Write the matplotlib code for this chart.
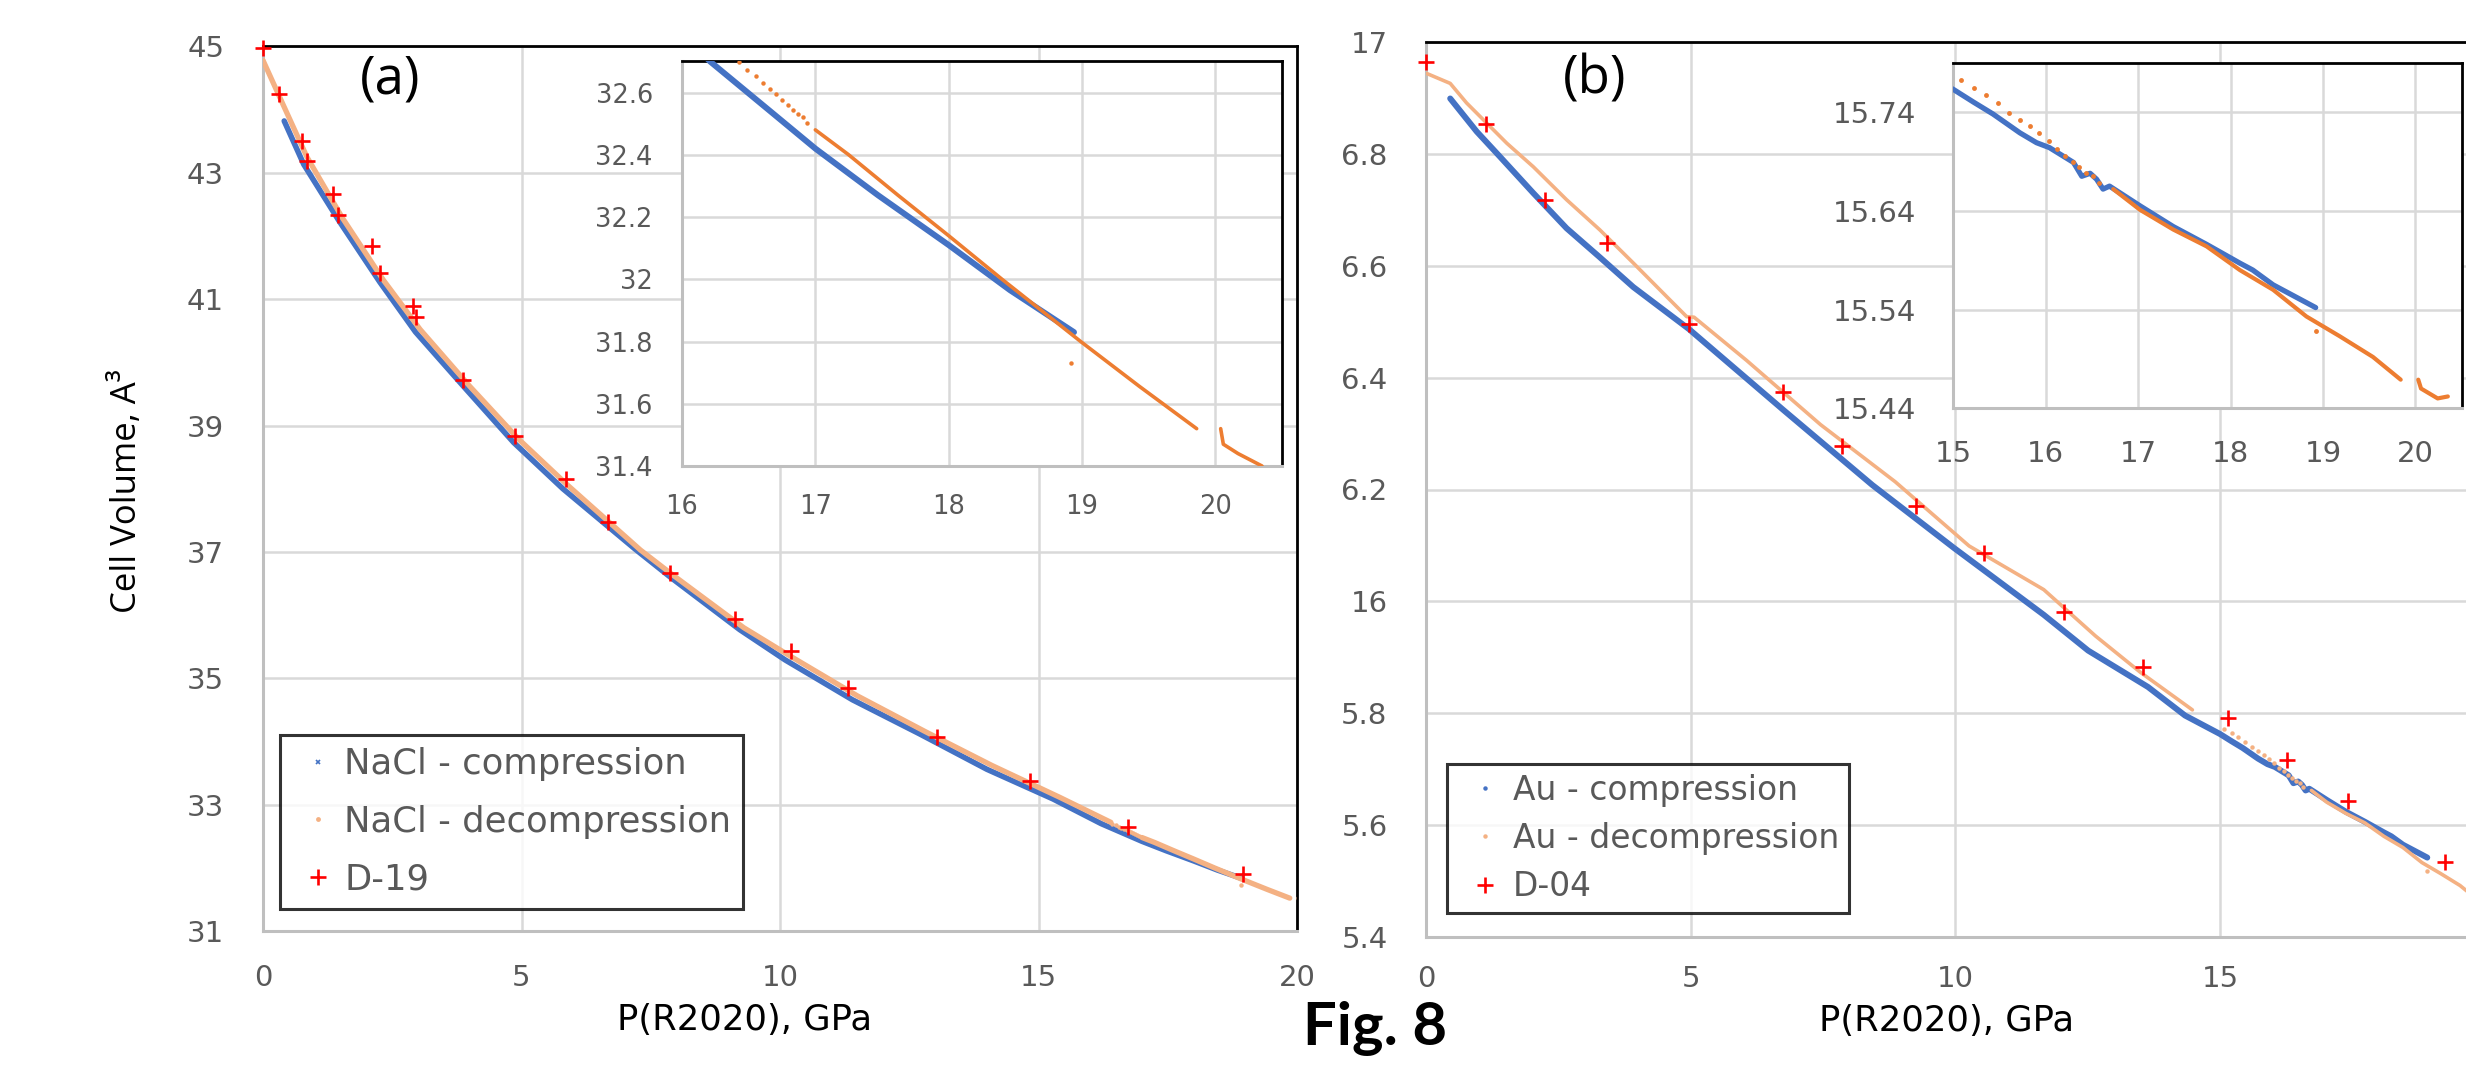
import numpy as np
import matplotlib
matplotlib.use("Agg")
import matplotlib.pyplot as plt
from matplotlib.lines import Line2D
from matplotlib.ticker import FixedLocator, FixedFormatter

plt.rcParams['font.family'] = ['DejaVu Sans']

nan = np.nan

# ---------------- (a) NaCl ----------------
nacl_comp_p = [0.41, 0.79, 1.47, 2.26, 2.95, 3.90, 4.85, 5.80, 7.19, 7.88, 9.22, 10.1,
               11.4, 12.7, 14.0, 15.28, 16.21, 16.69, 17.0, 17.47, 18.0, 18.46, 18.94]
nacl_comp_v = [43.82, 43.13, 42.24, 41.27, 40.48, 39.60, 38.73, 38.00, 37.05, 36.60, 35.77, 35.29,
               34.66, 34.12, 33.56, 33.09, 32.70, 32.53, 32.42, 32.27, 32.11, 31.965, 31.83]

nacl_dec_p = [0.0, 0.31, 0.85, 1.54, 2.33, 3.04, 4.0, 4.95, 5.9, 7.3, 7.95, 9.3, 10.2, 11.5,
              12.8, 14.1, 15.4, 16.4, nan,
              17.0, 17.25, 17.62, 18.0, 18.4, 18.99, 19.43, 19.86, nan,
              20.04, 20.06, 20.17, 20.35]
nacl_dec_v = [44.78, 44.22, 43.25, 42.28, 41.30, 40.52, 39.62, 38.78, 38.05, 37.03, 36.62, 35.80, 35.35, 34.72,
              34.16, 33.62, 33.12, 32.72, nan,
              32.48, 32.40, 32.27, 32.14, 32.00, 31.80, 31.656, 31.52, nan,
              31.52, 31.47, 31.44, 31.40]
# isolated decompression readings
nacl_dec_sparse_p = [16.428, 16.49, 16.552, 16.605, 16.661, 16.708, 16.748, 16.795, 16.832,
                     16.873, 16.904, 16.941, 18.92]
nacl_dec_sparse_v = [32.698, 32.673, 32.652, 32.629, 32.612, 32.595, 32.577, 32.560, 32.545,
                     32.531, 32.520, 32.503, 31.73]

d19_p = [0.0, 0.31, 0.76, 0.86, 1.35, 1.46, 2.10, 2.27, 2.91, 2.95, 3.87, 4.88, 5.87, 6.67,
         7.88, 9.13, 10.22, 11.32, 13.04, 14.83, 16.74, 18.96]
d19_v = [44.98, 44.24, 43.51, 43.19, 42.67, 42.33, 41.84, 41.41, 40.89, 40.72, 39.72, 38.83, 38.15, 37.47,
         36.67, 35.94, 35.43, 34.85, 34.07, 33.38, 32.65, 31.91]

# ---------------- (b) Au ----------------
au_comp_p = [0.45, 0.95, 1.39, 2.02, 2.65, 3.28, 3.91, 4.96, 6.75, 8.43, 9.98, 11.67, 12.51,
             13.64, 14.34, 15.0, 15.22, 15.43, 15.72, 15.90, 16.04, 16.30, 16.39, 16.48, 16.55,
             16.62, 16.69, 17.02, 17.38, 17.74, 18.10, 18.24, 18.46, 18.92]
au_comp_v = [16.899, 16.840, 16.795, 16.730, 16.667, 16.615, 16.562, 16.487, 16.342, 16.208, 16.095,
             15.976, 15.912, 15.847, 15.796, 15.763, 15.750, 15.738, 15.719, 15.709, 15.704, 15.689,
             15.675, 15.678, 15.672, 15.662, 15.665, 15.645, 15.624, 15.606, 15.587, 15.580, 15.565,
             15.542]

au_dec_p = [0.0, 0.45, 0.76, 1.14, 1.52, 2.02, 2.65, 3.28, 3.91, 4.54, 4.92, 5.06, 6.05, 7.45,
            8.86, 10.26, 11.67, 12.65, 13.50, 14.48, nan,
            16.73, 17.02, 17.38, 17.74, 18.10, 18.46, 18.82, 19.18, 19.54, 19.84, nan,
            20.03, 20.06, 20.15, 20.24, 20.35]
au_dec_v = [16.944, 16.926, 16.891, 16.855, 16.819, 16.777, 16.718, 16.664, 16.605, 16.545, 16.509,
            16.508, 16.431, 16.316, 16.214, 16.099, 16.021, 15.938, 15.873, 15.806, nan,
            15.662, 15.641, 15.621, 15.604, 15.580, 15.560, 15.533, 15.513, 15.492, 15.469, nan,
            15.469, 15.460, 15.455, 15.450, 15.452]
au_dec_sparse_p = [15.08, 15.22, 15.35, 15.48, 15.60, 15.72, 15.83, 15.93, 16.03, 16.12, 16.21,
                   16.29, 16.36, 16.44, 16.51, 16.58, 18.92]
au_dec_sparse_v = [15.772, 15.764, 15.757, 15.749, 15.739, 15.732, 15.726, 15.719, 15.711, 15.703,
                   15.696, 15.689, 15.684, 15.678, 15.675, 15.668, 15.518]

d04_p = [0.0, 1.12, 2.25, 3.42, 4.96, 6.75, 7.85, 9.25, 10.54, 12.05, 13.55, 15.15, 16.26, 17.43, 19.25]
d04_v = [16.965, 16.853, 16.717, 16.641, 16.495, 16.374, 16.277, 16.171, 16.087, 15.981, 15.882,
         15.792, 15.716, 15.644, 15.534]

# ---------------- ticks ----------------
a_xticks = [0, 5, 10, 15, 20]
a_yticks = [31, 33, 35, 37, 39, 41, 43, 45]
a_ylabels = ['31', '33', '35', '37', '39', '41', '43', '45']
ai_xticks = [16, 17, 18, 19, 20]
ai_yticks = [31.4, 31.6, 31.8, 32.0, 32.2, 32.4, 32.6]
ai_ylabels = ['31.4', '31.6', '31.8', '32', '32.2', '32.4', '32.6']
b_xticks = [0, 5, 10, 15, 20]
b_yticks = [15.4, 15.6, 15.8, 16.0, 16.2, 16.4, 16.6, 16.8, 17.0]
b_ylabels = ['5.4', '5.6', '5.8', '16', '6.2', '6.4', '6.6', '6.8', '17']
bi_xticks = [15, 16, 17, 18, 19, 20]
bi_yticks = [15.44, 15.54, 15.64, 15.74]
bi_ylabels = ['15.44', '15.54', '15.64', '15.74']

BLUE = '#4472C4'
PEACH = '#F4B183'
ORANGE = '#ED7D31'
RED = '#FF0000'
GRID = '#D9D9D9'
AXIS = '#BFBFBF'
TICK = '#595959'
TITLE_FONT = ['Open Sans', 'DejaVu Sans']

W, H, DPI = 2466, 1065, 100
fig = plt.figure(figsize=(W / DPI, H / DPI), dpi=DPI, facecolor='white')


def rect(l, t, r, b):
    return [l / W, 1 - b / H, (r - l) / W, (b - t) / H]


def frame(ax, xt, yt, ylab, xpad, ypad, fs):
    ax.set_facecolor('white')
    ax.xaxis.set_major_locator(FixedLocator(xt))
    ax.yaxis.set_major_locator(FixedLocator(yt))
    ax.yaxis.set_major_formatter(FixedFormatter(ylab))
    ax.xaxis.set_major_formatter(FixedFormatter([str(v) for v in xt]))
    ax.grid(True, color=GRID, lw=1.8)
    ax.set_axisbelow(True)
    for s in ('left', 'bottom'):
        ax.spines[s].set_color(AXIS)
        ax.spines[s].set_linewidth(2.2)
    for s in ('top', 'right'):
        ax.spines[s].set_color('black')
        ax.spines[s].set_linewidth(2.0)
    ax.tick_params(length=0, labelsize=fs, labelcolor=TICK)
    ax.tick_params(axis='x', pad=xpad)
    ax.tick_params(axis='y', pad=ypad)


# ---------- panel (a) ----------
axa = fig.add_axes(rect(263, 46.4, 1297, 931))
frame(axa, a_xticks, a_yticks, a_ylabels, 24, 28, 21)
axa.set_xlim(0, 20)
axa.set_ylim(31, 45)
axa.plot(nacl_comp_p, nacl_comp_v, color=BLUE, lw=4.0, solid_capstyle='round', zorder=3)
axa.plot(nacl_dec_p, nacl_dec_v, color=PEACH, lw=3.8, solid_capstyle='round', zorder=4)
axa.plot(nacl_dec_sparse_p, nacl_dec_sparse_v, ls='none', marker='o', ms=3.2, mew=0, color=PEACH, zorder=4)
axa.plot(d19_p, d19_v, ls='none', marker='+', ms=12, mew=1.9, color=RED, zorder=5, clip_on=False)

leg_a = [Line2D([], [], ls='none', marker='x', ms=3.5, mew=1.2, color=BLUE),
         Line2D([], [], ls='none', marker='o', ms=3.5, mew=0, color=PEACH),
         Line2D([], [], ls='none', marker='+', ms=12, mew=1.9, color=RED)]
la = axa.legend(leg_a, ['NaCl - compression', 'NaCl - decompression', 'D-19'],
                loc='upper left', bbox_to_anchor=(280 / W, 1 - 735 / H), bbox_transform=fig.transFigure,
                fontsize=25.5, labelcolor=TICK, frameon=True, fancybox=False, edgecolor='black',
                borderpad=0.34, labelspacing=0.67, handlelength=1.47, handletextpad=0.0,
                borderaxespad=0)
la.get_frame().set_linewidth(2.2)
la.set_zorder(10)

# inset (a)
axai = fig.add_axes(rect(682, 61.4, 1282, 466))
frame(axai, ai_xticks, ai_yticks, ai_ylabels, 20, 21, 18.5)
axai.set_xlim(16, 20.5)
axai.set_ylim(31.4, 32.7)
axai.plot(nacl_comp_p, nacl_comp_v, color=BLUE, lw=4.3, solid_capstyle='round', zorder=3)
axai.plot(nacl_dec_p, nacl_dec_v, color=ORANGE, lw=2.6, solid_capstyle='round', zorder=4)
axai.plot(nacl_dec_sparse_p, nacl_dec_sparse_v, ls='none', marker='o', ms=3.2, mew=0, color=ORANGE, zorder=4)

fig.text(390 / W, 1 - 80 / H, '(a)', fontsize=38, color='black', family=TITLE_FONT,
         ha='center', va='center')
fig.text(745 / W, 1 - 1030 / H, 'P(R2020), GPa', fontsize=25.5, color='black', ha='center', va='baseline')
fig.text(127 / W, 1 - 491 / H, 'Cell Volume, A³', fontsize=25, color='black', rotation=90,
         family=TITLE_FONT, ha='center', va='center')

# ---------- panel (b) ----------
axb = fig.add_axes(rect(1426.4, 42, 2484.4, 937))
frame(axb, b_xticks, b_yticks, b_ylabels, 20, 28, 21)
axb.set_xlim(0, 20)
axb.set_ylim(15.4, 17.0)
axb.plot(au_comp_p, au_comp_v, color=BLUE, lw=4.3, solid_capstyle='round', zorder=3)
axb.plot(au_dec_p, au_dec_v, color=PEACH, lw=2.6, solid_capstyle='round', zorder=4)
axb.plot(au_dec_sparse_p, au_dec_sparse_v, ls='none', marker='o', ms=3.2, mew=0, color=PEACH, zorder=4)
axb.plot(d04_p, d04_v, ls='none', marker='+', ms=12, mew=1.9, color=RED, zorder=5, clip_on=False)

leg_b = [Line2D([], [], ls='none', marker='o', ms=3.2, mew=0, color=BLUE),
         Line2D([], [], ls='none', marker='o', ms=3.2, mew=0, color=PEACH),
         Line2D([], [], ls='none', marker='+', ms=11, mew=1.9, color=RED)]
lb = axb.legend(leg_b, ['Au - compression', 'Au - decompression', 'D-04'],
                loc='upper left', bbox_to_anchor=(1447 / W, 1 - 764 / H), bbox_transform=fig.transFigure,
                fontsize=23.7, labelcolor=TICK, frameon=True, fancybox=False, edgecolor='black',
                borderpad=0.3, labelspacing=0.46, handlelength=1.7, handletextpad=0.0,
                borderaxespad=0)
lb.get_frame().set_linewidth(2.2)
lb.set_zorder(10)

# inset (b)
axbi = fig.add_axes(rect(1953.3, 62.7, 2461.7, 408.3))
frame(axbi, bi_xticks, bi_yticks, bi_ylabels, 23, 27, 21)
axbi.set_xlim(15, 20.5)
axbi.set_ylim(15.44, 15.79)
axbi.plot(au_comp_p, au_comp_v, color=BLUE, lw=3.8, solid_capstyle='round', zorder=3)
axbi.plot(au_dec_p, au_dec_v, color=ORANGE, lw=3.0, solid_capstyle='round', zorder=4)
axbi.plot(au_dec_sparse_p, au_dec_sparse_v, ls='none', marker='o', ms=3.5, mew=0, color=ORANGE, zorder=4)

fig.text(1595 / W, 1 - 80 / H, '(b)', fontsize=38, color='black', family=TITLE_FONT,
         ha='center', va='center')
fig.text(1947 / W, 1 - 1031 / H, 'P(R2020), GPa', fontsize=25.5, color='black', ha='center', va='baseline')

fig.text(1303 / W, 1 - 1045 / H, 'Fig. 8', fontsize=43, fontweight='bold', color='black',
         family=['Lato', 'DejaVu Sans'], ha='left', va='baseline')

fig.savefig('out.png', dpi=DPI, facecolor='white')
